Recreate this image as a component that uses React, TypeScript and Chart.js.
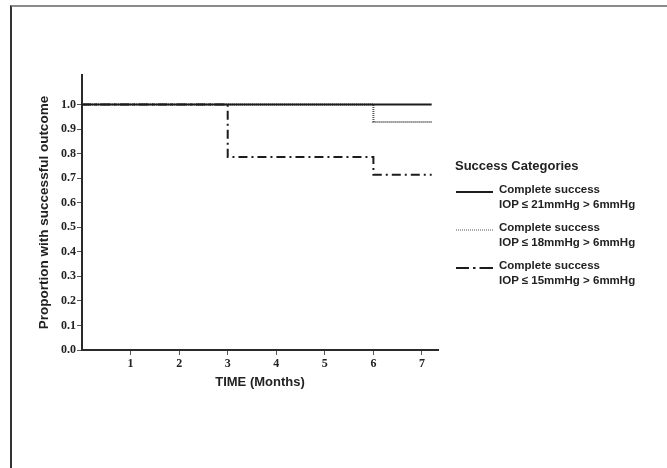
import React, { useEffect, useRef } from 'react';
import { Chart, registerables } from 'chart.js';

Chart.register(...registerables);

// ---- Data ----
const timeMonths = [0, 3, 6, 7.2];
const success21 = [1.0, 1.0, 1.0, 1.0];
const success18 = [1.0, 1.0, 0.929, 0.929];
const success15 = [1.0, 0.786, 0.714, 0.714];

const xTickValues = [1, 2, 3, 4, 5, 6, 7];
const yTickValues = [0, 0.1, 0.2, 0.3, 0.4, 0.5, 0.6, 0.7, 0.8, 0.9, 1.0];

const seriesNames = ['Complete success', 'Complete success', 'Complete success'];
const seriesCriteria = ['IOP \u2264 21mmHg > 6mmHg', 'IOP \u2264 18mmHg > 6mmHg', 'IOP \u2264 15mmHg > 6mmHg'];
const legendTitle = 'Success Categories';
const xTitle = 'TIME (Months)';
const yTitle = 'Proportion with successful outcome';

const seriesValues = [success21, success18, success15];
const seriesStyles = [
  { color: '#1c1c1c', width: 2, dash: [] as number[] },
  { color: '#555555', width: 2, dash: [1, 1] },
  { color: '#1c1c1c', width: 2, dash: [9, 4, 2, 4] },
];

const SANS = "'Liberation Sans', Arial, Helvetica, sans-serif";
const SERIF = "'Liberation Serif', 'Times New Roman', serif";

function LegendSample({ index }: { index: number }) {
  const s = seriesStyles[index];
  if (index === 2) {
    return (
      <svg width={38} height={4} style={{ display: 'block' }}>
        <line x1={0} y1={2} x2={13} y2={2} stroke={s.color} strokeWidth={2} />
        <line x1={17} y1={2} x2={19.5} y2={2} stroke={s.color} strokeWidth={2} />
        <line x1={23.5} y1={2} x2={37} y2={2} stroke={s.color} strokeWidth={2} />
      </svg>
    );
  }
  return (
    <svg width={38} height={4} style={{ display: 'block' }}>
      <line
        x1={0}
        y1={2}
        x2={37}
        y2={2}
        stroke={s.color}
        strokeWidth={index === 1 ? 1.2 : 2}
        strokeDasharray={index === 1 ? '1 1' : undefined}
      />
    </svg>
  );
}

export default function App() {
  const canvasRef = useRef<HTMLCanvasElement | null>(null);

  useEffect(() => {
    const canvas = canvasRef.current;
    if (!canvas) return;
    const datasets = seriesValues.map((vals, i) => ({
      label: seriesNames[i] + ' ' + seriesCriteria[i],
      data: vals.map((v, k) => ({ x: timeMonths[k], y: v })),
      borderColor: seriesStyles[i].color,
      borderWidth: seriesStyles[i].width,
      borderDash: seriesStyles[i].dash,
      stepped: 'before' as const,
      pointRadius: 0,
      fill: false,
      tension: 0,
    }));
    const chart = new Chart(canvas, {
      type: 'line',
      data: { datasets },
      options: {
        animation: false,
        responsive: false,
        devicePixelRatio: 1,
        layout: { padding: { left: 36, right: 229, top: 75, bottom: 78 } },
        plugins: { legend: { display: false }, tooltip: { enabled: false } },
        scales: {
          x: {
            type: 'linear',
            min: 0,
            max: 7.33,
            afterFit: (scale: any) => {
              scale.height = 40;
            },
            afterBuildTicks: (scale: any) => {
              scale.ticks = xTickValues.map((v) => ({ value: v }));
            },
            border: { display: true, color: '#2a2a2a', width: 2 },
            grid: {
              display: true,
              drawOnChartArea: false,
              drawTicks: true,
              tickLength: 5,
              color: '#555',
              lineWidth: 1,
            },
            ticks: {
              color: '#222',
              padding: 2,
              maxRotation: 0,
              font: { family: SERIF, size: 12, weight: 'bold' },
              callback: (v: any) => String(v),
            },
            title: {
              display: true,
              text: xTitle,
              color: '#222',
              padding: 0,
              font: { family: SANS, size: 13, weight: 'bold' },
            },
          },
          y: {
            type: 'linear',
            min: 0,
            max: 1.12,
            afterFit: (scale: any) => {
              scale.width = 46;
            },
            afterBuildTicks: (scale: any) => {
              scale.ticks = yTickValues.map((v) => ({ value: v }));
            },
            border: { display: true, color: '#2a2a2a', width: 2 },
            grid: {
              display: true,
              drawOnChartArea: false,
              drawTicks: true,
              tickLength: 5,
              color: '#555',
              lineWidth: 1,
            },
            ticks: {
              color: '#222',
              padding: 1,
              font: { family: SERIF, size: 12, weight: 'bold' },
              callback: (v: any) => Number(v).toFixed(1),
            },
            title: {
              display: true,
              text: yTitle,
              color: '#222',
              padding: 0,
              font: { family: SANS, size: 13.5, weight: 'bold' },
            },
          },
        },
      },
    });
    return () => chart.destroy();
  }, []);

  return (
    <div
      style={{
        position: 'fixed',
        left: 0,
        top: 0,
        width: 667,
        height: 468,
        background: '#fff',
        overflow: 'hidden',
      }}
    >
      <div
        style={{
          position: 'absolute',
          left: 10,
          top: 5,
          width: 660,
          height: 470,
          borderTop: '2px solid #8a8a8a',
          borderLeft: '2px solid #333',
          boxSizing: 'border-box',
        }}
      />
      <canvas
        ref={canvasRef}
        width={667}
        height={468}
        style={{ position: 'absolute', left: 0, top: 0, width: 667, height: 468 }}
      />
      <div
        style={{
          position: 'absolute',
          left: 455,
          top: 158,
          fontFamily: SANS,
          fontWeight: 'bold',
          color: '#222',
        }}
      >
        <div style={{ fontSize: 13, lineHeight: '16px', whiteSpace: 'nowrap' }}>{legendTitle}</div>
        {seriesNames.map((name, i) => (
          <div
            key={i}
            style={{
              position: 'absolute',
              left: 0,
              top: 23.5 + i * 38,
              width: 200,
              height: 30,
            }}
          >
            <div style={{ position: 'absolute', left: 1, top: 8 }}>
              <LegendSample index={i} />
            </div>
            <div
              style={{
                position: 'absolute',
                left: 44,
                top: 0,
                fontSize: 11.5,
                lineHeight: '15px',
                whiteSpace: 'nowrap',
              }}
            >
              <div>{name}</div>
              <div>{seriesCriteria[i]}</div>
            </div>
          </div>
        ))}
      </div>
    </div>
  );
}
